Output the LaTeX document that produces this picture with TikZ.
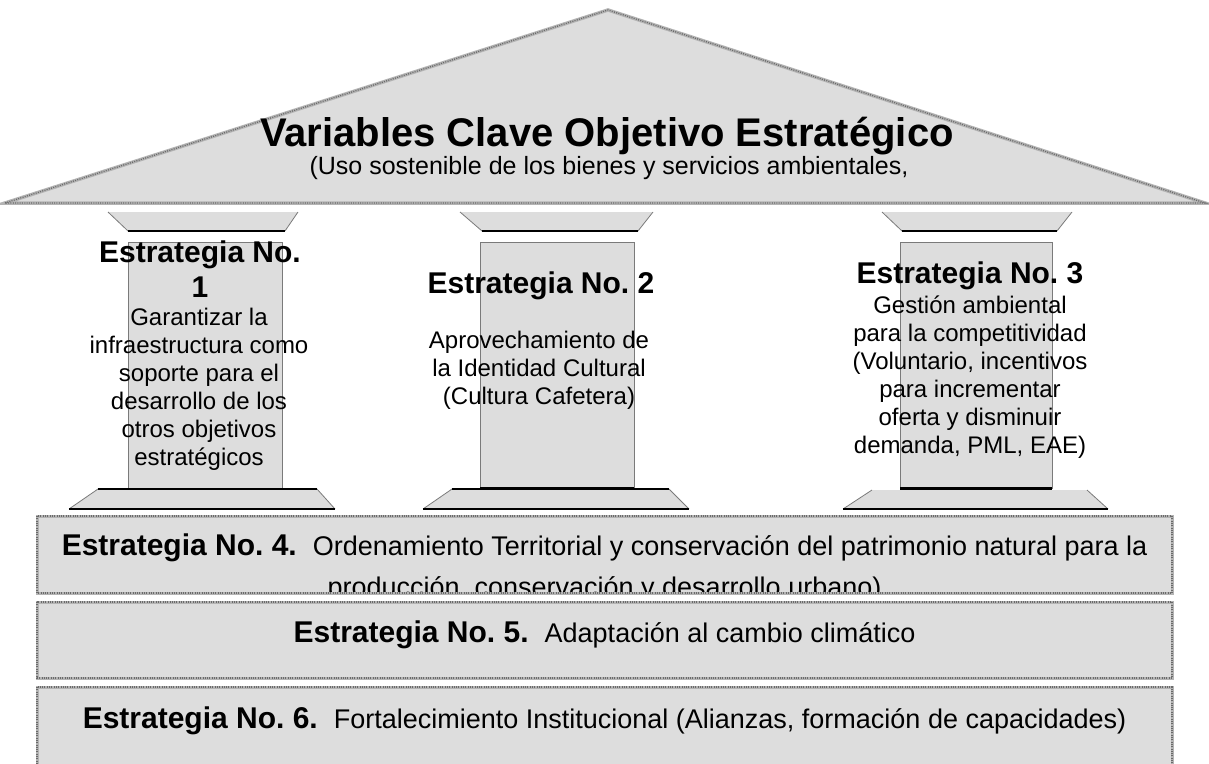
\documentclass[tikz,border=0pt]{standalone}
\usepackage{fontspec}
\setmainfont{Liberation Sans}
\frenchspacing
\definecolor{boxgray}{HTML}{DDDDDD}
\definecolor{texlight}{HTML}{B4B4B4}
\definecolor{texdark}{HTML}{6A6A6A}
\definecolor{sidegray}{HTML}{7A7A7A}
\begin{document}
\begin{tikzpicture}[x=1pt,y=-1pt,
  texture/.style={draw=texlight, line width=3.5pt,
    postaction={draw=texdark, line width=1.3pt, dash pattern=on 1pt off 1.3pt}},
  bandtexture/.style={draw=texlight, line width=3pt,
    postaction={draw=texdark, line width=1.1pt, dash pattern=on 1pt off 1.3pt}},
  sideline/.style={draw=sidegray, line width=0.8pt},
  heavy/.style={draw=black, line width=2.4pt},
  pillarbox/.style={fill=boxgray, draw=sidegray, line width=1pt},
  head/.style={font=\fontsize{30}{35}\selectfont\bfseries, inner sep=0pt},
  para/.style={font=\fontsize{24}{28}\selectfont, align=center, inner sep=0pt, anchor=north},
  bandtxt/.style={font=\fontsize{27}{31}\selectfont, inner sep=0pt, anchor=base}]
\useasboundingbox (0,0) rectangle (1209,763);

% roof
\path[fill=boxgray, texture] (5,203) -- (608,10) -- (1205,203) -- cycle;
\node[anchor=base, inner sep=0pt, font=\fontsize{40}{44}\selectfont\bfseries] (title) at (607,146.5) {Variables Clave Objetivo Estratégico};
\node[anchor=base, inner sep=0pt, font=\fontsize{25}{29}\selectfont] (subtitle) at (609,174.5) {(Uso sostenible de los bienes y servicios ambientales,};

% capitals
\fill[boxgray] (108,212) -- (298,212) -- (285,231) -- (128,231) -- cycle;
\draw[sideline] (108,212) -- (128,231) (298,212) -- (285,231);
\draw[heavy] (128,231) -- (285,231);
\fill[boxgray] (460,212) -- (653,212) -- (638,231) -- (482,231) -- cycle;
\draw[sideline] (460,212) -- (482,231) (653,212) -- (638,231);
\draw[heavy] (482,231) -- (638,231);
\fill[boxgray] (882,212) -- (1072,212) -- (1057,231) -- (902,231) -- cycle;
\draw[sideline] (882,212) -- (902,231) (1072,212) -- (1057,231);
\draw[heavy] (902,231) -- (1057,231);

% pillars
\draw[pillarbox] (128,242) rectangle (282,489);
\draw[pillarbox] (480,242) rectangle (634,488);
\draw[heavy] (480,488) -- (634,488);
\draw[pillarbox] (900,242) rectangle (1052,488);
\draw[heavy] (900,488) -- (1052,488);

% bases
\fill[boxgray] (98,489) -- (317,489) -- (335,509) -- (69,509) -- cycle;
\draw[sideline] (98,489) -- (69,509) (317,489) -- (335,509);
\draw[heavy] (98,489) -- (317,489);
\draw[heavy] (69,509) -- (335,509);
\fill[boxgray] (452,489) -- (669,489) -- (689,509) -- (423,509) -- cycle;
\draw[sideline] (452,489) -- (423,509) (669,489) -- (689,509);
\draw[heavy] (452,489) -- (669,489);
\draw[heavy] (423,509) -- (689,509);
\fill[boxgray] (872,490) -- (1087,490) -- (1108,509) -- (843,509) -- cycle;
\draw[sideline] (872,490) -- (843,509) (1087,490) -- (1108,509);
\draw[heavy] (900,489) -- (1052,489);
\draw[heavy] (843,509) -- (1108,509);

% pillar texts
\node[head, anchor=north, align=center] (h1) at (200,237.5) {\strut Estrategia No.\\1};
\node[para] (p1) at (199,305.4) {\strut Garantizar la\\infraestructura como\\soporte para el\\desarrollo de los\\otros objetivos\\estratégicos};
\node[head, anchor=base] (h2) at (541,293) {Estrategia No. 2};
\node[para] (p2) at (539,328.4) {\strut Aprovechamiento de\\la Identidad Cultural\\(Cultura Cafetera)};
\node[head, anchor=base] (h3) at (970,283) {Estrategia No. 3};
\node[para] (p3) at (970,293.4) {\strut Gestión ambiental\\para la competitividad\\(Voluntario, incentivos\\para incrementar\\oferta y disminuir\\demanda, PML, EAE)};

% bands
\path[fill=boxgray, bandtexture] (37,516) rectangle (1172,593);
\path[fill=boxgray, bandtexture] (37,602) rectangle (1172,678);
\path[fill=boxgray, bandtexture] (37,687) rectangle (1172,766);

\begin{scope}
\clip (39,518) rectangle (1170,591.5);
\node[bandtxt] (b4a) at (604.5,555) {{\fontsize{30}{35}\selectfont\bfseries Estrategia No. 4.}\hspace{16pt}Ordenamiento Territorial y conservación del patrimonio natural para la};
\node[bandtxt] (b4b) at (604.5,596) {producción, conservación y desarrollo urbano)};
\end{scope}
\node[bandtxt] (b5) at (604.5,642) {{\fontsize{30}{35}\selectfont\bfseries Estrategia No. 5.}\hspace{16pt}Adaptación al cambio climático};
\node[bandtxt] (b6) at (604.5,728) {{\fontsize{30}{35}\selectfont\bfseries Estrategia No. 6.}\hspace{16pt}Fortalecimiento Institucional (Alianzas, formación de capacidades)};
\end{tikzpicture}
\end{document}
